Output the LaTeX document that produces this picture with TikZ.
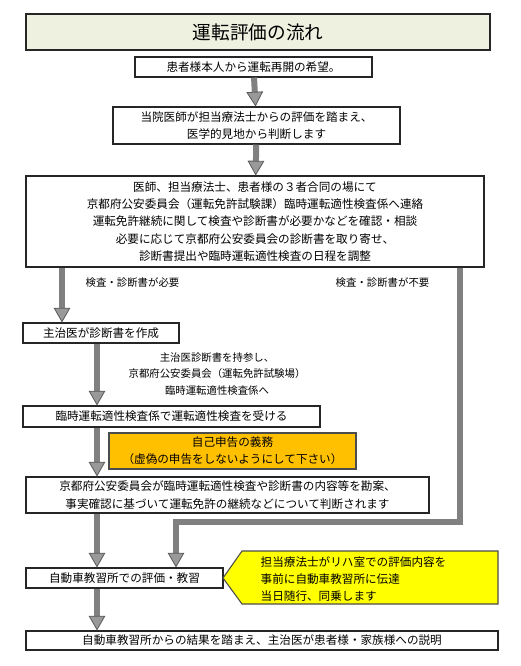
\documentclass[tikz,border=0pt]{standalone}
\usepackage{fontspec}
\setmainfont{Noto Sans CJK JP}
\usetikzlibrary{arrows.meta,positioning}
\definecolor{titlebg}{HTML}{EEF1E0}
\definecolor{warnbg}{HTML}{FFC000}
\definecolor{notebg}{HTML}{FFFF00}

\begin{document}
\begin{tikzpicture}[x=0.75pt,y=-0.75pt,
  box/.style={draw=black!85,line width=0.8pt,fill=white,inner sep=1pt,align=center,font=\fontsize{8.7}{13}\selectfont},
  flow/.style={draw=black!50,line width=4.5pt,-{Triangle[length=11pt,width=12.5pt,line width=0.6pt,fill=black!40,color=black!65]}},
  lbl/.style={font=\fontsize{7.8}{12.5}\selectfont,align=center}]
\useasboundingbox (0,0) rectangle (520,666);
\node[box,fill=titlebg,minimum width=348pt,minimum height=27pt,font=\fontsize{14}{16}\selectfont] (title) at (258,32) {運転評価の流れ};
\node[box,minimum width=177.75pt,minimum height=15pt] (wish) at (253.5,67) {患者様本人から運転再開の希望。};
\node[box,minimum width=215.25pt,minimum height=27.75pt] (judge) at (256.5,125.5) {当院医師が担当療法士からの評価を踏まえ、\\医学的見地から判断します};
\node[box,minimum width=343.5pt,minimum height=68.25pt] (meet) at (255,221.5) {医師、担当療法士、患者様の３者合同の場にて\\京都府公安委員会（運転免許試験課）臨時運転適性検査係へ連絡\\運転免許継続に関して検査や診断書が必要かなどを確認・相談\\必要に応じて京都府公安委員会の診断書を取り寄せ、\\診断書提出や臨時運転適性検査の日程を調整};
\node[box,minimum width=117pt,minimum height=15pt] (cert) at (101,333) {主治医が診断書を作成};
\node[box,minimum width=222.75pt,minimum height=15.75pt] (test) at (171.5,416.5) {臨時運転適性検査係で運転適性検査を受ける};
\node[box,draw=gray!60!black,fill=warnbg,minimum width=185.25pt,minimum height=27pt] (duty) at (232.5,451) {自己申告の義務\\（虚偽の申告をしないようにして下さい）};
\node[box,minimum width=302.25pt,minimum height=27pt] (decide) at (227.5,495) {京都府公安委員会が臨時運転適性検査や診断書の内容等を勘案、\\事実確認に基づいて運転免許の継続などについて判断されます};
\node[box,minimum width=147.75pt,minimum height=15pt] (school) at (124.5,578) {自動車教習所での評価・教習};
\node[box,minimum width=354pt,minimum height=14.25pt] (explain) at (262,640.5) {自動車教習所からの結果を踏まえ、主治医が患者様・家族様への説明};
% callout
\draw[draw=gray!60!black,line width=0.8pt,fill=notebg] (242,551) -- (498,551) -- (498,604) -- (242,604) -- (223,578) -- cycle;
\node[anchor=west,align=left,font=\fontsize{8.7}{12.5}\selectfont] (note) at (256,579) {担当療法士がリハ室での評価内容を\\事前に自動車教習所に伝達\\当日随行、同乗します};
% labels
\node[lbl,anchor=west] (need) at (81,283) {検査・診断書が必要};
\node[lbl,anchor=west] (noneed) at (331,283) {検査・診断書が不要};
\node[lbl] (bring) at (217,374) {主治医診断書を持参し、\\京都府公安委員会（運転免許試験場）\\臨時運転適性検査係へ};
% arrows
\coordinate (needx) at (62,0);
\coordinate (spine) at (97,0);
\coordinate (nobr) at (460,522);
\coordinate (nobl) at (176,522);
\draw[flow] (wish) -- (judge);
\draw[flow] (judge) -- (meet);
\draw[flow] (meet.south -| needx) -- (cert.north -| needx);
\draw[flow] (cert.south -| spine) -- (test.north -| spine);
\draw[flow] (test.south -| spine) -- (decide.north -| spine);
\draw[flow] (decide.south -| spine) -- (school.north -| spine);
\draw[flow] (school.south -| spine) -- (explain.north -| spine);
\draw[flow] (meet.south -| nobr) -- (nobr) -- (nobl) -- (school.north -| nobl);
\end{tikzpicture}
\end{document}
